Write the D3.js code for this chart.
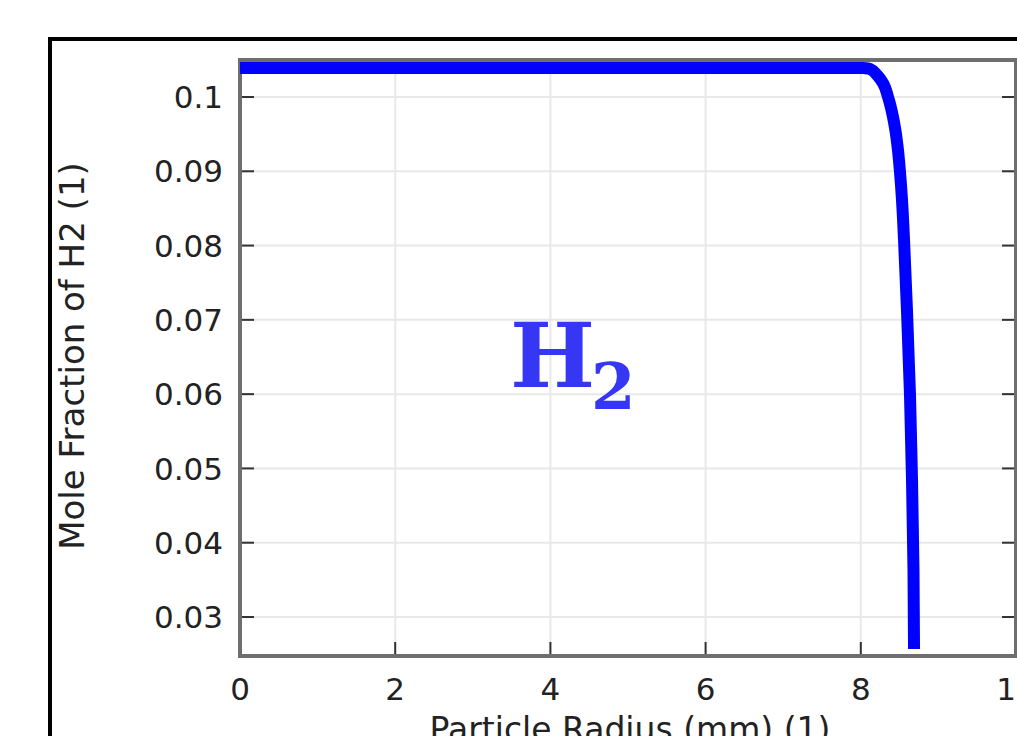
<!DOCTYPE html>
<html>
<head>
<meta charset="utf-8">
<script src="https://cdn.jsdelivr.net/npm/d3@7"></script>
<style>
  html, body { margin: 0; padding: 0; background: #fff; overflow: hidden; }
  svg { display: block; }
</style>
</head>
<body>
<svg id="chart" width="1017" height="736"></svg>
<script>
// particle radius (mm) and mole fraction of H2
var radius = [0, 7.925, 8.028, 8.119, 8.209, 8.286, 8.351, 8.415, 8.441, 8.479, 8.505, 8.531, 8.557, 8.595, 8.634, 8.66, 8.679, 8.686];
var moleFraction = [0.1039, 0.1039, 0.1039, 0.10377, 0.10296, 0.10188, 0.1, 0.09731, 0.09583, 0.09287, 0.0899, 0.08613, 0.08075, 0.07133, 0.05989, 0.04844, 0.03633, 0.0257];
var xTicks = [0, 2, 4, 6, 8, 10];
var yTicks = [0.03, 0.04, 0.05, 0.06, 0.07, 0.08, 0.09, 0.1];

(function () {
    var svg = d3.select('#chart');
    var plotLeft = 240, plotRight = 1016, plotTop = 60, plotBottom = 656;

    var scaleX = d3.scaleLinear().domain([0, 10]).range([plotLeft, plotRight]);
    var scaleY = d3.scaleLinear().domain([0.02475, 0.10498]).range([plotBottom, plotTop]);

    // outer frame
    svg.append('rect')
        .attr('x', 50).attr('y', 39)
        .attr('width', 1100).attr('height', 900)
        .attr('fill', 'none')
        .attr('stroke', '#000')
        .attr('stroke-width', 4);

    // grid
    svg.append('g').selectAll('line')
        .data(xTicks)
        .enter().append('line')
        .attr('x1', function (d) { return scaleX(d); })
        .attr('x2', function (d) { return scaleX(d); })
        .attr('y1', plotTop).attr('y2', plotBottom)
        .attr('stroke', '#e8e8e8').attr('stroke-width', 2);
    svg.append('g').selectAll('line')
        .data(yTicks)
        .enter().append('line')
        .attr('y1', function (d) { return scaleY(d); })
        .attr('y2', function (d) { return scaleY(d); })
        .attr('x1', plotLeft).attr('x2', plotRight)
        .attr('stroke', '#e8e8e8').attr('stroke-width', 2);

    // inward ticks on all four sides
    var tickLen = 14;
    var ticks = svg.append('g').attr('stroke', '#333').attr('stroke-width', 2);
    xTicks.forEach(function (d) {
        ticks.append('line').attr('x1', scaleX(d)).attr('x2', scaleX(d)).attr('y1', plotBottom).attr('y2', plotBottom - tickLen);
        ticks.append('line').attr('x1', scaleX(d)).attr('x2', scaleX(d)).attr('y1', plotTop).attr('y2', plotTop + tickLen);
    });
    yTicks.forEach(function (d) {
        ticks.append('line').attr('y1', scaleY(d)).attr('y2', scaleY(d)).attr('x1', plotLeft).attr('x2', plotLeft + tickLen);
        ticks.append('line').attr('y1', scaleY(d)).attr('y2', scaleY(d)).attr('x1', plotRight).attr('x2', plotRight - tickLen);
    });

    // spines
    svg.append('rect')
        .attr('x', plotLeft).attr('y', plotTop)
        .attr('width', plotRight - plotLeft).attr('height', plotBottom - plotTop)
        .attr('fill', 'none')
        .attr('stroke', '#6e6e6e')
        .attr('stroke-width', 4);

    // curve
    var line = d3.line()
        .x(function (d, i) { return scaleX(radius[i]); })
        .y(function (d) { return scaleY(d); })
        .curve(d3.curveMonotoneY);
    svg.append('path')
        .datum(moleFraction)
        .attr('d', line)
        .attr('fill', 'none')
        .attr('stroke', '#0000ff')
        .attr('stroke-width', 12)
        .attr('stroke-linejoin', 'round');

    // tick labels
    var font = '"DejaVu Sans", sans-serif';
    svg.append('g').selectAll('text')
        .data(xTicks)
        .enter().append('text')
        .attr('x', function (d) { return scaleX(d); })
        .attr('y', 700)
        .attr('text-anchor', 'middle')
        .attr('font-family', font).attr('font-size', 31).attr('fill', '#222')
        .text(function (d) { return d; });
    svg.append('g').selectAll('text')
        .data(yTicks)
        .enter().append('text')
        .attr('x', 223)
        .attr('y', function (d) { return scaleY(d); })
        .attr('dy', '0.36em')
        .attr('text-anchor', 'end')
        .attr('font-family', font).attr('font-size', 31).attr('fill', '#222')
        .text(function (d) { return d3.format('~g')(d); });

    // axis titles
    svg.append('text')
        .attr('transform', 'translate(84,356) rotate(-90)')
        .attr('text-anchor', 'middle')
        .attr('font-family', font).attr('font-size', 34).attr('fill', '#222')
        .text('Mole Fraction of H2 (1)');
    svg.append('text')
        .attr('x', 630).attr('y', 741)
        .attr('text-anchor', 'middle')
        .attr('font-family', font).attr('font-size', 33).attr('fill', '#222')
        .text('Particle Radius (mm) (1)');

    // H2 annotation
    var ann = svg.append('text')
        .attr('x', 510).attr('y', 387)
        .attr('font-family', '"DejaVu Serif", serif')
        .attr('font-weight', 'bold')
        .attr('fill', '#3636f5');
    ann.append('tspan').attr('font-size', 90).text('H');
    ann.append('tspan').attr('font-size', 64).attr('dx', -4).attr('dy', 22).text('2');
})();
</script>
</body>
</html>
